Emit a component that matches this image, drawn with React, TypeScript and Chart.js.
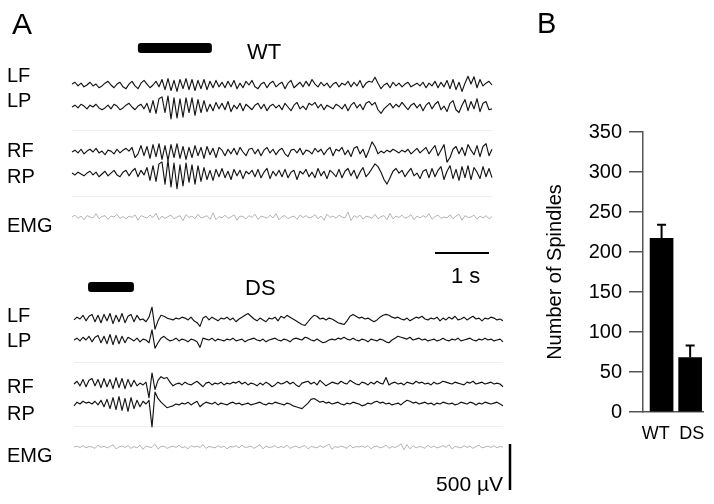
import React, { useEffect, useRef } from "react";
import { Chart, registerables } from "chart.js";
Chart.register(...registerables);

// ---------- DATA ----------
// EEG / EMG traces (µV), one sample every SAMPLE_DT seconds
const SAMPLE_DT = 1 / 18;

const WT_LF = [
  10, 30, -10, 20, -20, 0, 30, -10, 10, -30,
  -10, 20, 40, 0, -30, 10, 30, -20, -40, 10,
  40, -10, -40, 20, 50, 10, -30, 0, 40, -20,
  60, -50, 70, -60, 50, -70, 60, -40, 70, -50,
  60, -60, 50, -40, 60, -50, 40, -30, 50, -20,
  30, -30, 40, -20, 50, -40, 20, -30, 40, 0,
  50, -20, -40, 10, 30, -30, 20, 40, -20, 10,
  30, -40, 20, 50, -30, 0, 30, -20, 40, -10,
  60, 10, -20, 30, -10, 20, -30, 10, 30, -20,
  20, 0, 40, -20, 30, -10, 50, -30, 20, 40,
  30, 85, 20, -40, 0, 20, -30, 30, -10, 20,
  -20, 10, 30, -20, 0, 20, -10, 30, -30, 20,
  -10, 40, -30, 30, -20, 50, -40, 60, -50, 30,
  -70, 20, 95, 10, 90, -30, 60, -10, 20, 40, 0,
];
const WT_LP = [
  0, 20, -10, 30, 10, -20, 20, 0, 30, -10,
  -30, -10, 20, -20, 30, 10, -30, -10, 20, 40,
  0, -30, 10, 30, -20, 40, -60, 70, -70, 90,
  110, -60, 120, -130, 100, -120, 90, -110, 100, -60,
  100, -90, 80, -60, 70, -50, 30, -40, 50, -20,
  40, -30, 60, -50, 20, -20, 40, -40, 30, 0,
  -30, 20, 40, -20, 30, -40, 10, 30, -10, 20,
  -30, 40, 0, -40, 20, 50, -20, 10, -30, 40,
  20, 50, -10, 30, -30, 20, 0, -20, 30, 10,
  -20, 30, -40, 20, 50, -10, 30, -30, 40, 60,
  20, 50, -30, -70, -20, 10, 40, -10, 30, 0,
  50, 10, -30, 20, 40, -10, 30, -40, 20, 50,
  -20, 30, 60, -30, 10, -50, 40, 70, -30, -60,
  20, 80, -40, 60, -20, 90, -50, 40, 60, -30, -20,
];
const WT_RF = [
  0, 20, -10, 30, -20, 10, 30, 0, 40, -10,
  10, -30, 20, 10, -20, 30, -10, 20, 40, 10,
  50, -60, -20, 70, -40, 60, -70, 80, -50, 90,
  -80, 70, -90, 80, -60, 90, -70, 60, -80, 50,
  -60, 70, -40, 50, -70, 60, -30, 40, -60, 50,
  20, -40, 30, -20, 40, -30, 50, 0, -40, 30,
  40, -20, 30, -40, 20, 50, -10, 30, -30, 20,
  40, -20, -50, 20, 30, -10, 40, -30, 20, 10,
  -20, 40, 0, 30, -30, 20, 50, -40, 30, 10,
  50, -30, 20, -50, 40, 60, -20, 30, -60, 20,
  110, 60, -20, 10, -10, 20, 0, 30, 10, -10,
  20, 0, 30, -20, 10, 40, -10, 20, 50, -20,
  30, 70, -40, 20, 80, -110, -60, 30, 60, -20,
  50, -40, 80, 20, -30, 70, -50, 60, 90, -40, 30,
];
const WT_RP = [
  10, -10, 20, 0, -20, 10, 30, -10, 20, -30,
  0, 30, -20, 10, 40, -10, -30, 20, 40, -20,
  30, 60, -30, 40, -10, 70, -70, 90, -80, 110,
  130, -110, 150, -140, 120, -160, 100, -130, 120, -90,
  100, -110, 90, -80, 70, -60, 40, -70, 50, -30,
  60, -40, 30, -60, 50, -20, 40, -50, 30, 0,
  40, -30, 50, -40, 20, 60, -50, 30, -20, 40,
  -30, 50, -40, 20, 40, -60, 30, 0, 50, -30,
  20, -40, 60, -20, 30, -50, 40, 10, -30, 50,
  -40, 30, 60, -20, 40, -50, 20, 70, -30, 10,
  60, 110, 80, 20, -60, -110, -40, 30, 60, 10,
  40, -30, 20, 60, -20, 10, -50, 30, 50, -40,
  60, -30, 40, 80, -60, 30, 90, -50, 50, -70,
  80, -40, 90, -60, 70, 20, -50, 80, -30, 60, -40,
];
const WT_EMG = [
  0, 20, -15, 10, -30, 15, 0, -10, 35, -20, 5, 15, -25, 10, 0, 30, -15, 5, -20, 10,
  -5, 25, -35, 15, 0, -10, 20, -5, 40, -30, 10, -15, 5, 20, -20, 0, 15, -40, 25, -5,
  10, -20, 30, -10, 0, 15, -25, 45, -30, 5, -10, 20, -15, 0, 25, -35, 10, 5, -20, 15,
  -5, 30, -25, 10, 0, -15, 20, -10, 35, -30, 5, 15, -20, 0, 10, -25, 20, -5, 15, -10,
  0, 25, -20, 10, -35, 30, -5, 10, -15, 20, 0, -10, 55, -40, 15, -5, 20, -25, 10, 0,
  -15, 30, -20, 5, 15, -30, 40, -20, 10, -5, 20, -15, 0, 25, -30, 10, -10, 15, -5, 35,
  -25, 5, 20, -15, 0, -10, 25, -20, 10, 30, -35, 15, -5, 0, 20, -25, 10, -10, 15, -20, 5,
];

const DS_LF = [
  -10, 20, 0, 40, -20, 30, 50, -30, 40, -40,
  50, -20, 60, -50, 40, -30, 60, -40, 30, 50,
  -30, 40, -10, 0, -30, 20, 130, -110, -20, 40,
  30, 10, 0, -10, 10, 0, 20, 10, -10, 20,
  -20, -40, -80, 10, 30, -10, 20, 0, -20, 10,
  0, 20, -10, 10, -30, 0, 20, 40, 60, 30,
  0, -20, 10, -10, -30, 10, 0, 20, -20, 30,
  10, 40, 20, 0, -20, -40, -60, -70, -30, 10,
  40, 30, 0, 10, -10, 10, 0, -20, -40, -50,
  -60, -20, 30, 50, 30, 10, 20, 0, 10, -10,
  -30, -10, 20, 40, 50, 40, 20, 10, 20, 0,
  -10, 10, -20, 0, 20, 10, 30, 0, -10, 10,
  0, 20, -20, 10, -10, 20, 0, 30, -10, 0,
  20, -10, 10, 30, 0, 10, -20, 10, 0, 20, 10, -10, 0, -20,
];
const DS_LP = [
  0, 20, -10, 30, 0, 40, -20, 30, 50, -30,
  40, -40, 60, -50, 50, -40, 40, -30, 30, 10,
  -10, 20, -20, 10, 0, -30, 110, -90, -30, 20,
  40, 10, -10, 0, 20, -10, 10, 0, -20, 10,
  0, -20, -80, 20, 10, 0, 20, -10, 10, 0,
  -10, 10, 0, 20, -10, 0, 10, -20, 0, 10,
  20, 0, -10, 10, -20, 0, 10, 20, 0, -10,
  10, 0, -20, 10, 20, 10, 0, 30, 20, 0,
  -10, 10, -10, -30, -20, 0, 10, 0, 20, 10,
  30, 10, 0, 20, 0, -10, 10, 0, -20, 10,
  0, -10, 10, 0, -20, -30, 0, 20, 40, 30,
  20, 10, 30, 0, 10, 20, 0, 10, -10, 0,
  10, -10, 0, 20, 0, -10, 10, 0, 20, -10,
  0, 10, 20, 0, -10, 10, 0, 20, 0, 10, -10, 0, 10, -20,
];
const DS_RF = [
  0, 30, -20, 50, -30, 40, 60, -20, 50, -40,
  60, -30, 50, -50, 70, -40, 60, -50, 50, -30,
  40, -20, 10, -10, 20, -150, 120, -60, 40, 80,
  60, 70, 20, -20, 0, 10, -10, 20, 0, -10,
  10, 30, 0, -30, 10, 20, -10, 10, 0, 20,
  -10, 10, 0, 20, 10, 30, 0, 20, -10, 10,
  0, -20, 10, -10, 20, 0, -30, -10, 20, 0,
  10, 30, 0, 20, -10, -30, 10, 20, 30, 0,
  20, -10, 40, 10, -20, 0, 20, 10, 0, 30,
  10, 0, 40, 20, 0, -10, 20, 10, -10, 20,
  0, 30, 10, 0, 70, -10, 10, 20, 0, 10,
  -10, 20, 10, 0, 30, 10, 20, 0, 10, -10,
  20, 0, 10, 30, 20, 10, 0, 20, 10, 0,
  -10, 20, 10, 30, 0, 10, 20, 0, 10, 20, 0, 10, 0, -30,
];
const DS_RP = [
  -20, 20, 0, 30, 10, 20, 0, 30, -10, 40,
  -30, 50, -50, 70, -60, 80, -70, 60, -80, 70,
  -50, 40, -30, 30, 0, 40, -250, 130, 60, 20,
  -10, -40, -30, -20, 0, -10, 10, 0, 20, -10,
  10, 30, -30, 0, 20, 10, 0, 20, -10, 10,
  0, -10, 10, 20, 0, 10, -10, 0, 10, -10,
  0, 10, 20, 0, -10, 10, 0, 20, 10, 0,
  -10, 10, 0, -20, -30, -40, -50, -20, 10, 50,
  60, 40, 20, 30, 10, 20, 0, 10, 20, 0,
  -10, 10, 0, 20, 10, 0, -20, -10, 10, 0,
  20, 30, 10, 20, 0, 10, -10, 0, 10, -10,
  20, 40, 30, 10, 20, 0, 10, 20, 0, 10,
  -10, 10, 0, 20, 10, 0, 10, -10, 0, 20,
  10, 0, 20, 10, -10, 10, 0, 20, 10, 0, 10, 20, 0, -20,
];
const DS_EMG = [
  0, 10, -5, 15, -10, 5, 0, -15, 20, -5, 10, -10, 5, 25, -20, 0, 10, -5, 15, -15,
  5, -10, 20, -25, 10, 0, -5, 30, -20, 5, 10, -15, 0, 10, -5, 20, -10, 5, -20, 15,
  0, 10, -5, 25, -15, 5, 0, -10, 15, -5, 10, -20, 5, 0, 15, -10, 20, -5, 0, 10,
  -15, 5, 25, -20, 10, -5, 0, 15, -10, 5, -5, 20, -15, 0, 10, -10, 5, 15, -20, 5,
  0, -10, 15, -5, 10, 30, -25, 5, -5, 10, 0, -15, 20, -10, 5, 0, 10, -5, 15, -20,
  5, 10, -10, 0, 20, -15, 5, -5, 10, 35, -30, 25, -20, 15, -10, 5, 0, -15, 20, -5,
  10, -10, 0, 15, -5, 25, -20, 5, 0, -10, 15, -5, 10, -15, 5, 20, -10, 0, 10, -5,
  15, -10, 5, 0,
];

// spindle markers (s, relative to each trace start)
const WT_SPINDLE = [1.22, 2.59];
const DS_SPINDLE = [0.26, 1.11];

// panel B
const BAR_LABELS = ["WT", "DS"];
const BAR_MEANS = [217, 68];
const BAR_SEM = [17, 15];
const Y_MAX = 350;
const Y_STEP = 50;

// scale bars
const TIME_BAR_S = 1;
const VOLT_BAR_UV = 500;

// ---------- LAYOUT ----------
const FONT = '"Liberation Sans", Arial, Helvetica, sans-serif';
const A_W = 525;
const H = 504;
const PX_PER_S = 54;
const UV_PER_PX = 500 / 46;
const X_MIN = -72 / PX_PER_S;
const X_MAX = X_MIN + A_W / PX_PER_S;
const Y_MIN = -H * UV_PER_PX;
const rowY = (px: number) => -px * UV_PER_PX;
const DS_SHIFT = 2 / PX_PER_S;
const BAR_LABEL_POS = [-0.2, 1.06];

type Chan = { label: string; data: number[]; row: number; labelBase: number; emg?: boolean };
const WT_CH: Chan[] = [
  { label: "LF", data: WT_LF, row: 85, labelBase: 82 },
  { label: "LP", data: WT_LP, row: 107, labelBase: 107 },
  { label: "RF", data: WT_RF, row: 152, labelBase: 157 },
  { label: "RP", data: WT_RP, row: 174, labelBase: 183 },
  { label: "EMG", data: WT_EMG, row: 217, labelBase: 232, emg: true },
];
const DS_CH: Chan[] = [
  { label: "LF", data: DS_LF, row: 319, labelBase: 322 },
  { label: "LP", data: DS_LP, row: 340, labelBase: 347 },
  { label: "RF", data: DS_RF, row: 384, labelBase: 393 },
  { label: "RP", data: DS_RP, row: 404, labelBase: 420 },
  { label: "EMG", data: DS_EMG, row: 447, labelBase: 462, emg: true },
];

function buildDatasets(chs: Chan[], t0: number) {
  return chs.map((c) => ({
    label: c.label,
    data: c.data.map((v, i) => ({ x: t0 + i * SAMPLE_DT, y: rowY(c.row) + v })),
    borderColor: c.emg ? "#b4b4b4" : "#141414",
    borderWidth: c.emg ? 1 : 1.15,
    borderJoinStyle: "round" as const,
    pointRadius: 0,
    tension: 0,
    fill: false,
    clip: false as any,
  }));
}

export default function App() {
  const aRef = useRef<HTMLCanvasElement>(null);
  const bRef = useRef<HTMLCanvasElement>(null);

  useEffect(() => {
    document.body.style.margin = "0";

    const panelA = {
      id: "panelA",
      beforeDatasetsDraw(chart: any) {
        const ctx = chart.ctx;
        const xs = chart.scales.x;
        ctx.save();
        ctx.strokeStyle = "#eeeeee";
        ctx.lineWidth = 1;
        const seps: [number, number, number][] = [
          [130, 0, (WT_LF.length - 1) * SAMPLE_DT],
          [196, 0, (WT_LF.length - 1) * SAMPLE_DT],
          [362, DS_SHIFT, DS_SHIFT + (DS_LF.length - 1) * SAMPLE_DT],
          [426, DS_SHIFT, DS_SHIFT + (DS_LF.length - 1) * SAMPLE_DT],
        ];
        seps.forEach(([py, t0, t1]) => {
          ctx.beginPath();
          ctx.moveTo(xs.getPixelForValue(t0), py + 0.5);
          ctx.lineTo(xs.getPixelForValue(t1), py + 0.5);
          ctx.stroke();
        });
        ctx.restore();
      },
      afterDraw(chart: any) {
        const ctx = chart.ctx;
        const xs = chart.scales.x;
        const ys = chart.scales.y;
        ctx.save();
        ctx.fillStyle = "#000";
        const marker = (t0: number, t1: number, cy: number) => {
          const x0 = xs.getPixelForValue(t0);
          const x1 = xs.getPixelForValue(t1);
          ctx.beginPath();
          (ctx as any).roundRect(x0, cy - 5, x1 - x0, 10, 3);
          ctx.fill();
        };
        marker(WT_SPINDLE[0], WT_SPINDLE[1], 48);
        marker(DS_SHIFT + DS_SPINDLE[0], DS_SHIFT + DS_SPINDLE[1], 287);
        ctx.strokeStyle = "#000";
        ctx.lineWidth = 2;
        const tb0 = (435 - 72) / PX_PER_S;
        ctx.beginPath();
        ctx.moveTo(xs.getPixelForValue(tb0), 253);
        ctx.lineTo(xs.getPixelForValue(tb0 + TIME_BAR_S), 253);
        ctx.stroke();
        ctx.lineWidth = 2.5;
        const vb0 = rowY(490);
        ctx.beginPath();
        ctx.moveTo(510, ys.getPixelForValue(vb0));
        ctx.lineTo(510, ys.getPixelForValue(vb0 + VOLT_BAR_UV));
        ctx.stroke();
        ctx.textBaseline = "alphabetic";
        ctx.textAlign = "left";
        ctx.font = `30px ${FONT}`;
        ctx.fillText("A", 12, 34);
        ctx.font = `22px ${FONT}`;
        ctx.fillText("WT", 247, 59);
        ctx.fillText("DS", 245, 295);
        ctx.fillText("1 s", 451, 283);
        ctx.font = `21px ${FONT}`;
        ctx.textAlign = "right";
        ctx.fillText("500 µV", 503, 491);
        ctx.textAlign = "left";
        ctx.font = `20px ${FONT}`;
        [...WT_CH, ...DS_CH].forEach((c) => ctx.fillText(c.label, 7, c.labelBase));
        ctx.restore();
      },
    };

    const chartA = new Chart(aRef.current!, {
      type: "line",
      data: {
        datasets: [...buildDatasets(WT_CH, 0), ...buildDatasets(DS_CH, DS_SHIFT)] as any,
      },
      options: {
        responsive: false,
        animation: false,
        layout: { padding: 0 },
        plugins: { legend: { display: false }, tooltip: { enabled: false } },
        scales: {
          x: { type: "linear", display: false, min: X_MIN, max: X_MAX },
          y: { type: "linear", display: false, min: Y_MIN, max: 0 },
        },
      },
      plugins: [panelA],
    });

    const panelB = {
      id: "panelB",
      afterDatasetsDraw(chart: any) {
        const ctx = chart.ctx;
        const xs = chart.scales.x;
        const ys = chart.scales.y;
        ctx.save();
        ctx.strokeStyle = "#000";
        ctx.lineWidth = 2;
        BAR_MEANS.forEach((m, i) => {
          const x = xs.getPixelForValue(i);
          const yb = ys.getPixelForValue(m);
          const yt = ys.getPixelForValue(m + BAR_SEM[i]);
          ctx.beginPath();
          ctx.moveTo(x, yb);
          ctx.lineTo(x, yt);
          ctx.moveTo(x - 4.5, yt);
          ctx.lineTo(x + 4.5, yt);
          ctx.stroke();
        });
        ctx.restore();
      },
      afterDraw(chart: any) {
        const ctx = chart.ctx;
        ctx.save();
        ctx.fillStyle = "#000";
        ctx.font = `29px ${FONT}`;
        ctx.textBaseline = "alphabetic";
        ctx.fillText("B", 12, 33);
        ctx.restore();
      },
    };

    const chartB = new Chart(bRef.current!, {
      type: "bar",
      data: {
        datasets: [
          {
            data: BAR_MEANS.map((m, i) => ({ x: i, y: m })),
            backgroundColor: "#000",
            borderWidth: 0,
            barThickness: 23,
          } as any,
        ],
      },
      options: {
        responsive: false,
        animation: false,
        layout: { padding: { left: 0, right: 11, top: 132, bottom: 52 } },
        plugins: { legend: { display: false }, tooltip: { enabled: false } },
        scales: {
          x: {
            type: "linear",
            offset: false,
            bounds: "data",
            min: -0.65,
            max: 1.45,
            afterBuildTicks: (s: any) => {
              s.ticks = BAR_LABEL_POS.map((p) => ({ value: p }));
            },
            afterFit: (s: any) => {
              s.height = 40;
              s.paddingLeft = 0;
              s.paddingRight = 0;
            },
            grid: { display: true, drawOnChartArea: false, drawTicks: false, color: "#555", offset: false },
            border: { display: true, color: "#555", width: 1.5 },
            ticks: {
              callback: (_v: any, i: number) => BAR_LABELS[i] ?? "",
              font: { family: FONT, size: 18 },
              color: "#000",
              padding: 11,
              maxRotation: 0,
              minRotation: 0,
              autoSkip: false,
            },
          },
          y: {
            min: 0,
            max: Y_MAX,
            afterFit: (s: any) => {
              s.width = 118;
              s.paddingTop = 0;
              s.paddingBottom = 0;
            },
            ticks: { stepSize: Y_STEP, font: { family: FONT, size: 20 }, color: "#000", padding: 7 },
            grid: { drawOnChartArea: false, tickLength: 14, color: "#555", lineWidth: 1.5 },
            border: { display: true, color: "#555", width: 1.5 },
            title: {
              display: true,
              text: "Number of Spindles",
              font: { family: FONT, size: 20 },
              color: "#000",
              padding: { top: 18, bottom: 0 },
            },
          },
        },
      } as any,
      plugins: [panelB],
    });

    return () => {
      chartA.destroy();
      chartB.destroy();
    };
  }, []);

  return (
    <div style={{ position: "absolute", left: 0, top: 0, width: 714, height: 504, background: "#fff" }}>
      <canvas ref={aRef} width={A_W} height={H} style={{ position: "absolute", left: 0, top: 0 }} />
      <canvas ref={bRef} width={714 - A_W} height={H} style={{ position: "absolute", left: A_W, top: 0 }} />
    </div>
  );
}
